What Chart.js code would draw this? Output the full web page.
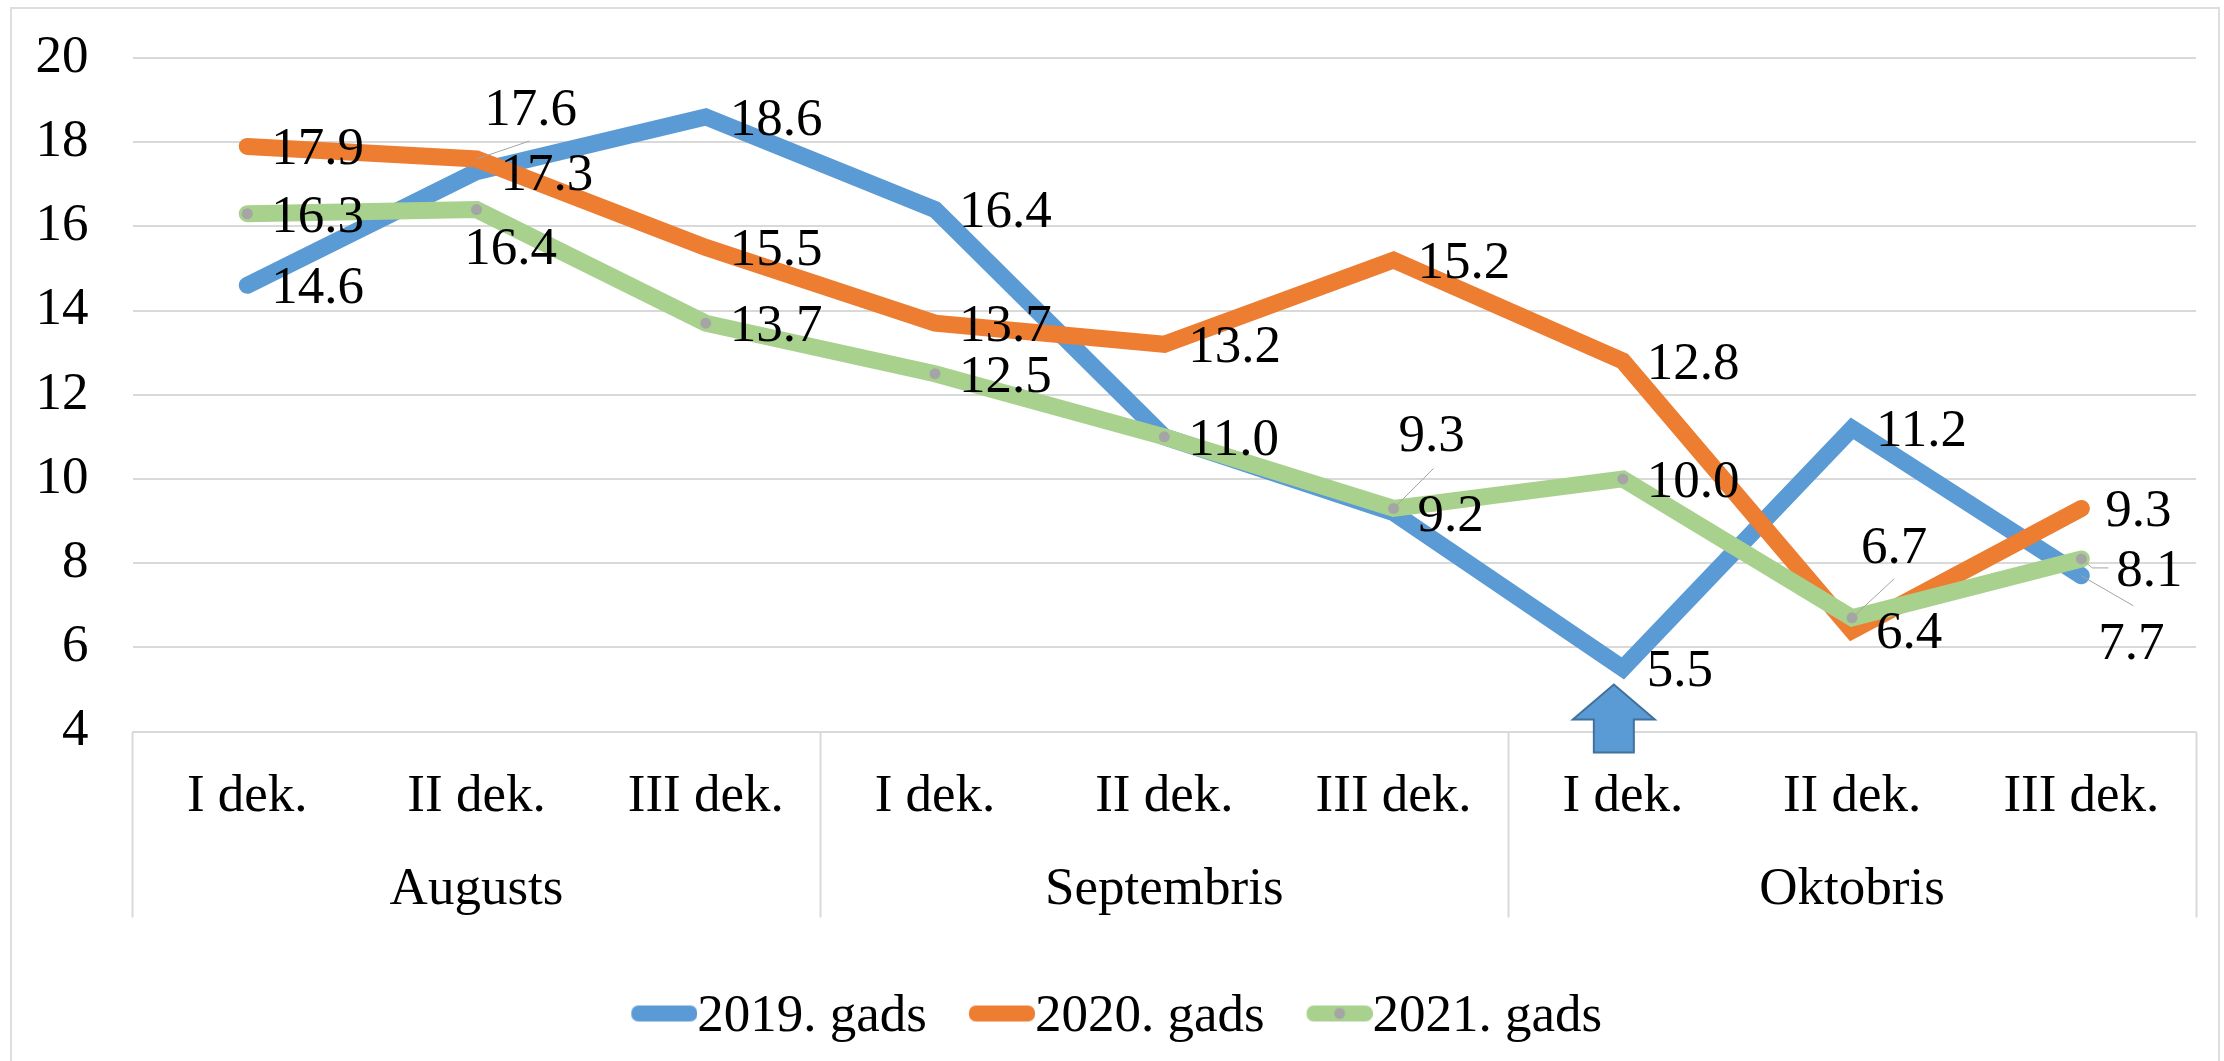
<!DOCTYPE html>
<html>
<head>
<meta charset="utf-8">
<style>
  html, body { margin: 0; padding: 0; background: #fff; }
  #wrap { position: relative; width: 2224px; height: 1061px; overflow: hidden; }
  #frame { position: absolute; left: 10px; top: 7px; width: 2206px; height: 1200px; border: 2px solid #dedede; }
  canvas { position: absolute; left: 0; top: 0; }
</style>
</head>
<body>
<div id="wrap">
  <div id="frame"></div>
  <canvas id="chart" width="2224" height="1061"></canvas>
</div>
<script src="https://cdn.jsdelivr.net/npm/chart.js@4"></script>
<script>
const decades = ['I dek.', 'II dek.', 'III dek.', 'I dek.', 'II dek.', 'III dek.', 'I dek.', 'II dek.', 'III dek.'];
const months = ['Augusts', 'Septembris', 'Oktobris'];
const years = ['2019. gads', '2020. gads', '2021. gads'];
const values2019 = [14.6, 17.3, 18.6, 16.4, 11.0, 9.2, 5.5, 11.2, 7.7];
const values2020 = [17.9, 17.6, 15.5, 13.7, 13.2, 15.2, 12.8, 6.4, 9.3];
const values2021 = [16.3, 16.4, 13.7, 12.5, 11.0, 9.3, 10.0, 6.7, 8.1];

const blue = '#5b9bd5';
const orange = '#ed7d31';
const green = '#a9d18e';
const grey = '#a5a5a5';
const gridColor = '#d9d9d9';
const serif = '"Liberation Serif", "Times New Roman", serif';
const fontSize = 53;

// labels that do not sit right of their point, as dx/dy from the point, with optional leader line
const movedLabels = {
    '0-4': null,
    '1-1': {dx: 54, dy: -48, leader: [[0, 0], [53, -18]]},
    '2-1': {dx: 34, dy: 41},
    '2-5': {dx: 38, dy: -71, leader: [[0, 0], [40, -40]]},
    '2-7': {dx: 42, dy: -69, leader: [[0, 0], [42, -39]]},
    '2-8': {dx: 35, dy: 13, left: true, leader: [[0, 0], [11, 9], [27, 9]]},
    '0-8': {dx: 50, dy: 69, leader: [[0, 0], [52, 30]]},
};

// legend swatch, drawn into its own canvas so the legend can place it right against the text
function legendSwatch(color, withDot) {
    const c = document.createElement('canvas');
    c.width = 125;
    c.height = 40;
    const g = c.getContext('2d');
    g.fillStyle = color;
    g.beginPath();
    g.roundRect(59, 8, 66, 16, 7);
    g.fill();
    if (withDot) {
        g.fillStyle = grey;
        g.beginPath();
        g.arc(92, 16, 5.5, 0, Math.PI * 2);
        g.fill();
    }
    return c;
}
const swatches = [legendSwatch(blue), legendSwatch(orange), legendSwatch(green, true)];

const valueLabels = {
    id: 'valueLabels',
    afterDatasetsDraw(chart) {
        const ctx = chart.ctx;
        ctx.save();
        ctx.font = fontSize + 'px ' + serif;
        ctx.textBaseline = 'middle';
        chart.data.datasets.forEach((ds, di) => {
            chart.getDatasetMeta(di).data.forEach((pt, i) => {
                const moved = movedLabels[di + '-' + i];
                if (moved === null) return;
                const text = ds.data[i].toFixed(1);
                if (moved && moved.leader) {
                    ctx.strokeStyle = grey;
                    ctx.lineWidth = 1;
                    ctx.beginPath();
                    moved.leader.forEach((p, n) => {
                        if (n === 0) ctx.moveTo(pt.x + p[0], pt.y + p[1]);
                        else ctx.lineTo(pt.x + p[0], pt.y + p[1]);
                    });
                    ctx.stroke();
                }
                ctx.fillStyle = '#000';
                if (moved) {
                    ctx.textAlign = moved.left ? 'left' : 'center';
                    ctx.fillText(text, pt.x + moved.dx, pt.y + moved.dy);
                } else {
                    ctx.textAlign = 'left';
                    ctx.fillText(text, pt.x + 24, pt.y + 4);
                }
            });
        });
        ctx.restore();
    }
};

// up arrow under the October minimum
const lowArrow = {
    id: 'lowArrow',
    afterDraw(chart) {
        const ctx = chart.ctx;
        const cx = chart.scales.x.getPixelForValue(6) - 9;
        const top = chart.scales.y.getPixelForValue(4) - 47;
        ctx.save();
        ctx.fillStyle = blue;
        ctx.strokeStyle = '#41719c';
        ctx.lineWidth = 2;
        ctx.beginPath();
        ctx.moveTo(cx, top);
        ctx.lineTo(cx + 41, top + 35);
        ctx.lineTo(cx + 20, top + 35);
        ctx.lineTo(cx + 20, top + 68);
        ctx.lineTo(cx - 20, top + 68);
        ctx.lineTo(cx - 20, top + 35);
        ctx.lineTo(cx - 41, top + 35);
        ctx.closePath();
        ctx.fill();
        ctx.stroke();
        ctx.restore();
    }
};

function lineSet(label, data, color, order) {
    return {
        label: label,
        data: data,
        borderColor: color,
        backgroundColor: color,
        borderWidth: 17,
        borderCapStyle: 'round',
        tension: 0,
        pointRadius: 0,
        pointHoverRadius: 0,
        order: order
    };
}

new Chart(document.getElementById('chart').getContext('2d'), {
    type: 'line',
    data: {
        labels: decades,
        datasets: [
            lineSet(years[0], values2019, blue, 3),
            lineSet(years[1], values2020, orange, 2),
            Object.assign(lineSet(years[2], values2021, green, 1), {pointRadius: 5.5, pointBackgroundColor: grey, pointBorderWidth: 0})
        ]
    },
    options: {
        responsive: false,
        animation: false,
        layout: {padding: {left: 5, right: 28, top: 58, bottom: 7}},
        plugins: {
            tooltip: {enabled: false},
            legend: {
                position: 'bottom',
                labels: {
                    color: '#000',
                    font: {family: serif, size: fontSize},
                    usePointStyle: true,
                    pointStyleWidth: 72,
                    padding: 9.5,
                    sort: (a, b) => a.datasetIndex - b.datasetIndex,
                    generateLabels(chart) {
                        return Chart.defaults.plugins.legend.labels.generateLabels(chart).map(item => {
                            item.pointStyle = swatches[item.datasetIndex];
                            return item;
                        });
                    }
                }
            }
        },
        scales: {
            y: {
                min: 4,
                max: 20,
                ticks: {stepSize: 2, color: '#000', font: {family: serif, size: fontSize}, padding: 44},
                grid: {color: gridColor, lineWidth: 2, drawTicks: false},
                border: {display: false},
                afterFit(scale) {
                    scale.width = 127.6;
                    scale.paddingTop = 0;
                    scale.paddingBottom = 0;
                }
            },
            x: {
                offset: true,
                weight: 0,
                ticks: {color: '#000', font: {family: serif, size: fontSize}, autoSkip: false, maxRotation: 0, padding: -152},
                grid: {
                    offset: true,
                    drawOnChartArea: false,
                    tickLength: 186,
                    tickWidth: 2,
                    tickColor(ctx) {
                        return ctx.index === undefined || ctx.index % 3 === 0 ? gridColor : 'rgba(0,0,0,0)';
                    }
                },
                border: {color: gridColor, width: 2},
                afterFit(scale) { scale.height = 104; }
            },
            months: {
                type: 'category',
                labels: months,
                axis: 'x',
                position: 'bottom',
                offset: true,
                weight: 1,
                ticks: {color: '#000', font: {family: serif, size: fontSize}, maxRotation: 0, padding: 23},
                grid: {display: false, drawTicks: false},
                border: {display: false},
                afterFit(scale) { scale.height = 146; }
            }
        }
    },
    plugins: [valueLabels, lowArrow]
});
</script>
</body>
</html>
